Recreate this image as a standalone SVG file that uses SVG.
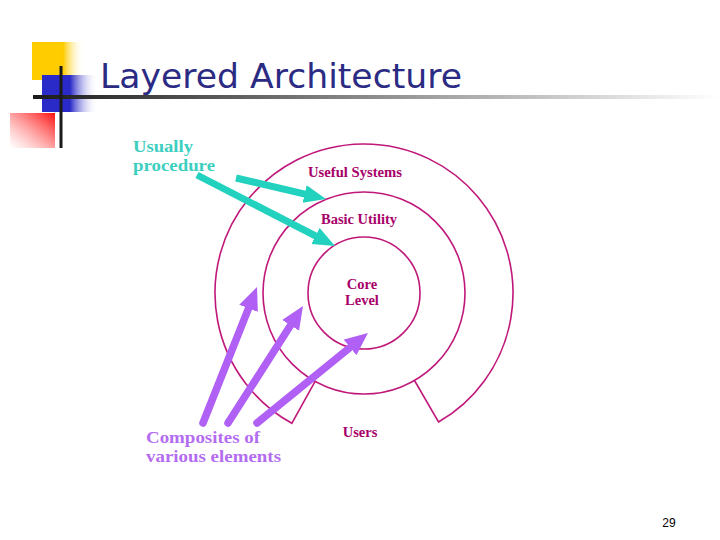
<svg xmlns="http://www.w3.org/2000/svg" width="720" height="540" viewBox="0 0 720 540">
  <defs>
    <linearGradient id="gy" x1="0" y1="0" x2="1" y2="0">
      <stop offset="0" stop-color="#ffcc00"/>
      <stop offset="0.6" stop-color="#ffcc00"/>
      <stop offset="1" stop-color="#ffffff" stop-opacity="0"/>
    </linearGradient>
    <linearGradient id="gb" x1="0" y1="0" x2="1" y2="0">
      <stop offset="0" stop-color="#2a2ac8"/>
      <stop offset="0.5" stop-color="#2a2ac8"/>
      <stop offset="1" stop-color="#ffffff" stop-opacity="0"/>
    </linearGradient>
    <linearGradient id="gr" x1="1" y1="0" x2="0" y2="1">
      <stop offset="0" stop-color="#ff1010"/>
      <stop offset="1" stop-color="#ffffff" stop-opacity="0.6"/>
    </linearGradient>
    <linearGradient id="gl" x1="0" y1="0" x2="1" y2="0">
      <stop offset="0" stop-color="#1a1a1a"/>
      <stop offset="0.25" stop-color="#555555"/>
      <stop offset="1" stop-color="#ffffff"/>
    </linearGradient>
    <marker id="mt" markerUnits="userSpaceOnUse" markerWidth="24" markerHeight="20" refX="7" refY="9" orient="auto">
      <path d="M0,0 L22,9 L0,18 z" fill="#22d2be"/>
    </marker>
    <marker id="mp" markerUnits="userSpaceOnUse" markerWidth="26" markerHeight="22" refX="8" refY="10" orient="auto">
      <path d="M0,0 L23,10 L0,20 z" fill="#b060f4"/>
    </marker>
    <style>
      .ring { fill: none; stroke: #c0187a; stroke-width: 1.6; }
      .lbl { font-family: "Liberation Serif", "Times New Roman", serif; font-weight: bold; fill: #a8006a; font-size: 14.5px; text-anchor: middle; }
      .teal { font-family: "Liberation Serif", "Times New Roman", serif; font-weight: bold; fill: #3ccfc0; font-size: 17px; }
      .purp { font-family: "Liberation Serif", "Times New Roman", serif; font-weight: bold; fill: #b46cf0; font-size: 17.5px; }
      .at { stroke: #22d2be; stroke-width: 7; fill: none; marker-end: url(#mt); }
      .ap { stroke: #b060f4; stroke-width: 7.5; fill: none; stroke-linecap: round; marker-end: url(#mp); }
    </style>
  </defs>
  <rect width="720" height="540" fill="#ffffff"/>

  <g id="decor">
    <rect x="32" y="42" width="52" height="38" fill="url(#gy)"/>
    <rect x="42" y="75" width="56" height="37" fill="url(#gb)"/>
    <rect x="10" y="113" width="45" height="35" fill="url(#gr)"/>
    <rect x="33" y="95" width="687" height="4" fill="url(#gl)"/>
    <rect x="59.5" y="66" width="3" height="82" fill="#1a1a1a"/>
  </g>

  <g id="title">
    <text x="100" y="88" font-family="DejaVu Sans, Verdana, sans-serif" font-size="34" fill="#2b2b84" textLength="362" lengthAdjust="spacingAndGlyphs">Layered Architecture</text>
  </g>

  <g id="users">
    <path class="ring" d="M315.1,381.4 L291.8,423.3 A149,149 0 1 1 438.5,422 L414.5,380.5"/>
    <text class="lbl" x="360" y="437">Users</text>
  </g>
  <g id="useful-systems">
    <circle class="ring" cx="364" cy="293" r="101"/>
    <text class="lbl" x="355" y="177" textLength="94" lengthAdjust="spacingAndGlyphs">Useful Systems</text>
  </g>
  <g id="basic-utility">
    <text class="lbl" x="359" y="224" textLength="76" lengthAdjust="spacingAndGlyphs">Basic Utility</text>
  </g>
  <g id="core-level">
    <circle class="ring" cx="364" cy="293" r="56"/>
    <text class="lbl" x="362" y="289">Core</text>
    <text class="lbl" x="362" y="305">Level</text>
  </g>

  <g id="usually-procedure">
    <text class="teal" x="133" y="152" textLength="60" lengthAdjust="spacingAndGlyphs">Usually</text>
    <text class="teal" x="133" y="171" textLength="82" lengthAdjust="spacingAndGlyphs">procedure</text>
  </g>
  <g id="composites">
    <text class="purp" x="146" y="443" textLength="114" lengthAdjust="spacingAndGlyphs">Composites of</text>
    <text class="purp" x="146" y="462" textLength="135" lengthAdjust="spacingAndGlyphs">various elements</text>
  </g>

  <g id="connectors">
    <line class="at" x1="236" y1="178" x2="311.4" y2="195.6"/>
    <line class="at" x1="197" y1="175" x2="321.7" y2="239.1"/>
    <line class="ap" x1="203" y1="423" x2="251.5" y2="300.9"/>
    <line class="ap" x1="228" y1="423" x2="294.9" y2="318.6"/>
    <line class="ap" x1="257" y1="423" x2="356.3" y2="342.4"/>
  </g>

  <g id="page-number">
    <text x="669" y="527" font-family="Liberation Sans, Arial, sans-serif" font-size="12" fill="#000000" text-anchor="middle">29</text>
  </g>
</svg>
